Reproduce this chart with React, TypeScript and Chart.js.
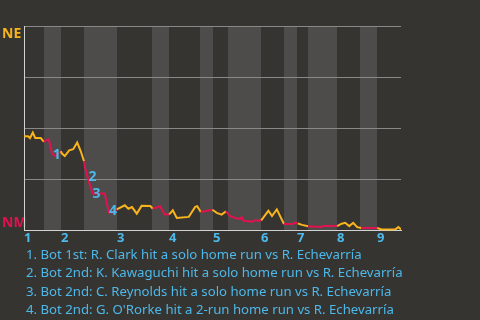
import React, { useEffect, useRef } from 'react';
import { Chart, registerables } from 'chart.js';

Chart.register(...registerables);

// play position (x) and win probability for the home team (y, 0 = NM, 100 = NE)
const playX = [
  0, 1.0, 1.5, 2.2, 2.8, 4.2, 5.0, 5.5, 6.2, 7.0, 7.7, 9.2, 9.5, 10.2, 11.3, 12.3, 13.3, 14.2, 15.0, 15.3,
  16.2, 17.2, 19.0, 20.2, 21.2, 22.2, 23.2, 25.2, 26.1, 27.0, 28.2, 29.4, 31.6, 32.2, 34.0, 35.2, 36.3, 37.2,
  38.2, 41.2, 42.8, 43.3, 44.2, 47.1, 48.2, 49.4, 50.5, 51.5, 52.8, 54.0, 54.4, 54.9, 57.0, 57.5, 59.3, 61.1,
  62.0, 63.2, 65.0, 67.3, 67.6, 68.5, 69.5, 71.0, 74.3, 74.8, 78.3, 79.4, 80.3, 81.3, 82.3, 83.3, 84.3, 88.3,
  89.4, 92.8, 93.6, 94.25,
];
const winProb = [
  46.1, 46.1, 45.2, 47.9, 45.2, 45.2, 43.3, 44.1, 44.6, 37.6, 36.4, 38.7, 37.6, 36.4, 39.2, 39.7, 43.0, 38.7, 33.8, 30.3,
  24.0, 18.0, 18.0, 18.0, 8.7, 8.7, 10.3, 12.3, 10.6, 11.4, 8.2, 12.0, 11.9, 10.6, 11.8, 7.8, 7.8, 9.8,
  6.1, 6.6, 11.5, 11.8, 9.0, 10.1, 8.6, 7.7, 9.3, 7.0, 6.1, 5.6, 6.5, 4.7, 4.2, 4.9, 4.9, 9.6,
  7.0, 10.3, 3.1, 3.1, 3.8, 3.4, 2.7, 2.0, 1.7, 2.1, 2.1, 3.3, 3.7, 2.1, 3.7, 1.6, 1.2, 1.2,
  0.5, 0.5, 1.6, 0.5,
];

// bottom halves of innings (shaded)
const bottomHalfStart = [5, 15, 32, 44, 51, 65, 71, 84];
const bottomHalfEnd = [9.25, 23.25, 36.25, 47.25, 59.25, 68.25, 78.25, 88.25];

// innings
const inningStarts = [0, 9.25, 23.25, 36.25, 47.25, 59.25, 68.25, 78.25, 88.25];
const inningLabels = ['1', '2', '3', '4', '5', '6', '7', '8', '9'];
const xMax = 94.25;

// key events
const eventNumbers = ['1', '2', '3', '4'];
const eventX = [8.2, 17.1, 18.1, 22.25];
const eventY = [36.9, 26.0, 17.6, 9.6];
const eventTexts = [
  '1. Bot 1st: R. Clark hit a solo home run vs R. Echevarría',
  '2. Bot 2nd: K. Kawaguchi hit a solo home run vs R. Echevarría',
  '3. Bot 2nd: C. Reynolds hit a solo home run vs R. Echevarría',
  '4. Bot 2nd: G. O\'Rorke hit a 2-run home run vs R. Echevarría',
];

const topTeam = 'NE';
const bottomTeam = 'NM';

const BG = '#363430';
const BAND = '#4e4c4a';
const GRID = '#8a8885';
const AXIS = '#d2d2d2';
const YELLOW = '#f8b41c';
const RED = '#e0124f';
const BLUE = '#4db8ea';
const FONT = '"Noto Sans", sans-serif';

function inBottomHalf(x: number) {
  for (let i = 0; i < bottomHalfStart.length; i++) {
    if (x >= bottomHalfStart[i] && x <= bottomHalfEnd[i]) return true;
  }
  return false;
}

const decorPlugin = {
  id: 'decor',
  beforeDraw(chart: any) {
    const { ctx, chartArea } = chart;
    const xs = chart.scales.x;
    ctx.save();
    ctx.fillStyle = BAND;
    for (let i = 0; i < bottomHalfStart.length; i++) {
      const a = xs.getPixelForValue(bottomHalfStart[i]);
      const b = xs.getPixelForValue(bottomHalfEnd[i]);
      ctx.fillRect(a, chartArea.top, b - a, chartArea.bottom - chartArea.top);
    }
    ctx.font = `bold 14px ${FONT}`;
    ctx.textAlign = 'left';
    ctx.textBaseline = 'alphabetic';
    ctx.fillStyle = YELLOW;
    ctx.fillText(topTeam, 2, 38);
    ctx.fillStyle = RED;
    ctx.fillText(bottomTeam, 2, 227);
    ctx.restore();
  },
  afterDatasetsDraw(chart: any) {
    const { ctx } = chart;
    const xs = chart.scales.x;
    const ys = chart.scales.y;
    ctx.save();
    ctx.font = `bold 14px ${FONT}`;
    ctx.textAlign = 'center';
    ctx.textBaseline = 'middle';
    ctx.fillStyle = BLUE;
    for (let i = 0; i < eventNumbers.length; i++) {
      ctx.fillText(eventNumbers[i], xs.getPixelForValue(eventX[i]), ys.getPixelForValue(eventY[i]));
    }
    ctx.restore();
  },
};

function WinChart() {
  const ref = useRef<HTMLCanvasElement | null>(null);
  useEffect(() => {
    if (!ref.current) return;
    const chart = new Chart(ref.current, {
      type: 'line',
      data: {
        datasets: [
          {
            data: playX.map((x, i) => ({ x, y: winProb[i] })),
            borderWidth: 2,
            pointRadius: 0,
            tension: 0,
            borderColor: YELLOW,
            segment: {
              borderColor: (c: any) =>
                inBottomHalf((c.p0.parsed.x + c.p1.parsed.x) / 2) ? RED : YELLOW,
            },
          },
        ],
      },
      options: {
        animation: false,
        responsive: false,
        devicePixelRatio: 1,
        layout: { autoPadding: false, padding: { left: 24, top: 26, right: 79, bottom: 74 } },
        plugins: { legend: { display: false }, tooltip: { enabled: false } },
        scales: {
          x: {
            type: 'linear',
            min: 0,
            max: xMax,
            grid: { display: false, drawTicks: false },
            border: { display: true, color: AXIS, width: 1 },
            afterBuildTicks: (scale: any) => {
              scale.ticks = inningStarts.map((v) => ({ value: v }));
            },
            ticks: {
              padding: 0,
              align: 'start',
              autoSkip: false,
              maxRotation: 0,
              color: BLUE,
              font: { family: FONT, size: 13, weight: 'bold' },
              callback: (_v: any, i: number) => inningLabels[i],
            },
          },
          y: {
            min: 0,
            max: 100,
            grid: { color: GRID, lineWidth: 1, drawTicks: false },
            border: { display: true, color: AXIS, width: 1 },
            ticks: { display: false, stepSize: 25 },
          },
        },
      },
      plugins: [decorPlugin],
    } as any);
    return () => chart.destroy();
  }, []);
  return <canvas ref={ref} width={480} height={320} style={{ position: 'absolute', left: 0, top: 0 }} />;
}

export default function App() {
  return (
    <div style={{ position: 'fixed', left: 0, top: 0, width: 480, height: 320, background: BG, overflow: 'hidden' }}>
      <WinChart />
      <div
        style={{
          position: 'absolute',
          left: 26,
          top: 245,
          fontFamily: FONT,
          fontSize: 13.2,
          lineHeight: '18.3px',
          color: BLUE,
          whiteSpace: 'nowrap',
        }}
      >
        {eventTexts.map((t) => (
          <div key={t}>{t}</div>
        ))}
      </div>
    </div>
  );
}
